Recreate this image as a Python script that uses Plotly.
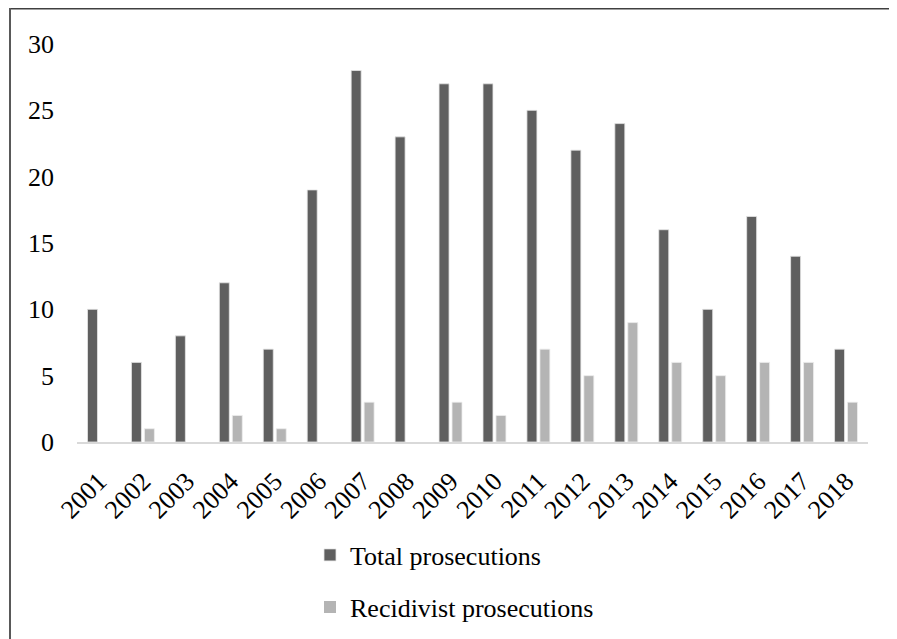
import plotly.graph_objects as go

years = [str(y) for y in range(2001, 2019)]
total = [10, 6, 8, 12, 7, 19, 28, 23, 27, 27, 25, 22, 24, 16, 10, 17, 14, 7]
recidivist = [0, 1, 0, 2, 1, 0, 3, 0, 3, 2, 7, 5, 9, 6, 5, 6, 6, 3]
y_ticks = [0, 5, 10, 15, 20, 25, 30]

W, H = 897, 639
OFF = 8  # page body margin
L, R, T, B = 77 - OFF, 29 + OFF, 44 - OFF, 197 + OFF
pw, ph = W - L - R, H - T - B

def px(x):
    return (x - L) / pw

def py(y):
    return (H - B - y) / ph

FONT = "Liberation Serif, Times New Roman, serif"
FS = 26

fig = go.Figure()
fig.add_trace(go.Bar(
    x=years, y=total, name="Total prosecutions",
    marker=dict(color="#5f5f5f",
                line=dict(color="#e6e6e6", width=[0.8 if v else 0 for v in total])),
    legend="legend",
))
fig.add_trace(go.Bar(
    x=years, y=recidivist, name="Recidivist prosecutions",
    marker=dict(color="#b4b4b4",
                line=dict(color="#eeeeee", width=[0.8 if v else 0 for v in recidivist])),
    legend="legend2",
))

fig.update_layout(
    width=W, height=H,
    margin=dict(l=L, r=R, t=T, b=B),
    paper_bgcolor="white", plot_bgcolor="white",
    font=dict(family=FONT, size=FS, color="black"),
    barmode="group", bargap=0.41, bargroupgap=0.23,
    xaxis=dict(type="category", tickangle=-45, showgrid=False,
               showline=True, linecolor="#d9d9d9", linewidth=1.5,
               ticks="", ticklabelstandoff=12, tickfont=dict(size=FS)),
    yaxis=dict(range=[0, 30], tickvals=y_ticks, showgrid=False,
               showline=False, zeroline=False, ticks="",
               ticklabelstandoff=22, tickfont=dict(size=FS)),
    legend=dict(x=px(302), y=py(547), xanchor="left", yanchor="middle",
                bgcolor="rgba(0,0,0,0)", font=dict(size=FS)),
    legend2=dict(x=px(302), y=py(599), xanchor="left", yanchor="middle",
                 bgcolor="rgba(0,0,0,0)", font=dict(size=FS)),
    showlegend=True,
    shapes=[
        dict(type="line", xref="paper", yref="paper",
             x0=px(1), x1=px(W + 5), y0=py(0.75), y1=py(0.75),
             line=dict(color="#404040", width=1.5)),
        dict(type="line", xref="paper", yref="paper",
             x0=px(2), x1=px(2), y0=py(0), y1=py(H + 5),
             line=dict(color="#595959", width=2)),
    ],
)

fig.write_html("out.html")
